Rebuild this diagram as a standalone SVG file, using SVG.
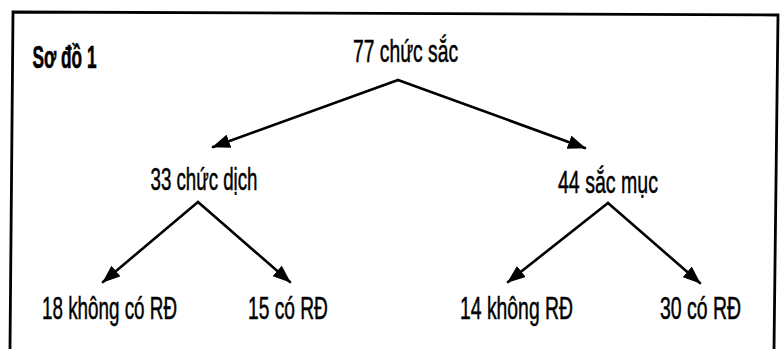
<svg xmlns="http://www.w3.org/2000/svg" width="782" height="349" viewBox="0 0 782 349">
<style>
.t{font-family:"Liberation Sans",Arial,sans-serif;font-size:31px;fill:#000;stroke:#000;stroke-width:0.5}
.b{font-weight:bold;stroke-width:0.6}
.c{stroke:#000;stroke-width:2.6;fill:none;stroke-linecap:round;marker-end:url(#ah)}
.frame{stroke:#000;stroke-width:2.8;fill:none;stroke-linejoin:miter}
</style>
<defs>
<marker id="ah" markerUnits="userSpaceOnUse" markerWidth="18" markerHeight="14" viewBox="0 0 18 14" refX="17" refY="7" orient="auto">
<path d="M0,0 L18,7 L0,14 Z" fill="#000"/>
</marker>
</defs>
<rect width="782" height="349" fill="#fff"/>
<path class="frame" d="M10,349 L13,12 L778,15 L774,349"/>
<g id="title"><text class="t b" transform="translate(32.5,67.5) scale(0.565,1)" x="0" y="0" textLength="113.3" lengthAdjust="spacingAndGlyphs">Sơ đồ 1</text></g>
<g id="n77"><text class="t" transform="translate(353,61.5) scale(0.63,1)" x="0" y="0" textLength="166.7" lengthAdjust="spacingAndGlyphs">77 chức sắc</text></g>
<g id="n33"><text class="t" transform="translate(150.5,190) scale(0.61,1)" x="0" y="0" textLength="175.4" lengthAdjust="spacingAndGlyphs">33 chức dịch</text></g>
<g id="n44"><text class="t" transform="translate(558,193) scale(0.63,1)" x="0" y="0" textLength="158.7" lengthAdjust="spacingAndGlyphs">44 sắc mục</text></g>
<g id="n18"><text class="t" transform="translate(42,319) scale(0.607,1)" x="0" y="0" textLength="222.4" lengthAdjust="spacingAndGlyphs">18 không có RĐ</text></g>
<g id="n15"><text class="t" transform="translate(248,319) scale(0.619,1)" x="0" y="0" textLength="129.2" lengthAdjust="spacingAndGlyphs">15 có RĐ</text></g>
<g id="n14"><text class="t" transform="translate(460,319) scale(0.625,1)" x="0" y="0" textLength="180.8" lengthAdjust="spacingAndGlyphs">14 không RĐ</text></g>
<g id="n30"><text class="t" transform="translate(660,319) scale(0.627,1)" x="0" y="0" textLength="129.2" lengthAdjust="spacingAndGlyphs">30 có RĐ</text></g>
<g id="connectors">
<line class="c" x1="398" y1="80" x2="213" y2="147"/>
<line class="c" x1="398" y1="80" x2="585" y2="148"/>
<line class="c" x1="198" y1="202" x2="103" y2="282"/>
<line class="c" x1="198" y1="202" x2="290" y2="282"/>
<line class="c" x1="608" y1="203" x2="508" y2="282"/>
<line class="c" x1="608" y1="203" x2="700" y2="283"/>
</g>
</svg>
